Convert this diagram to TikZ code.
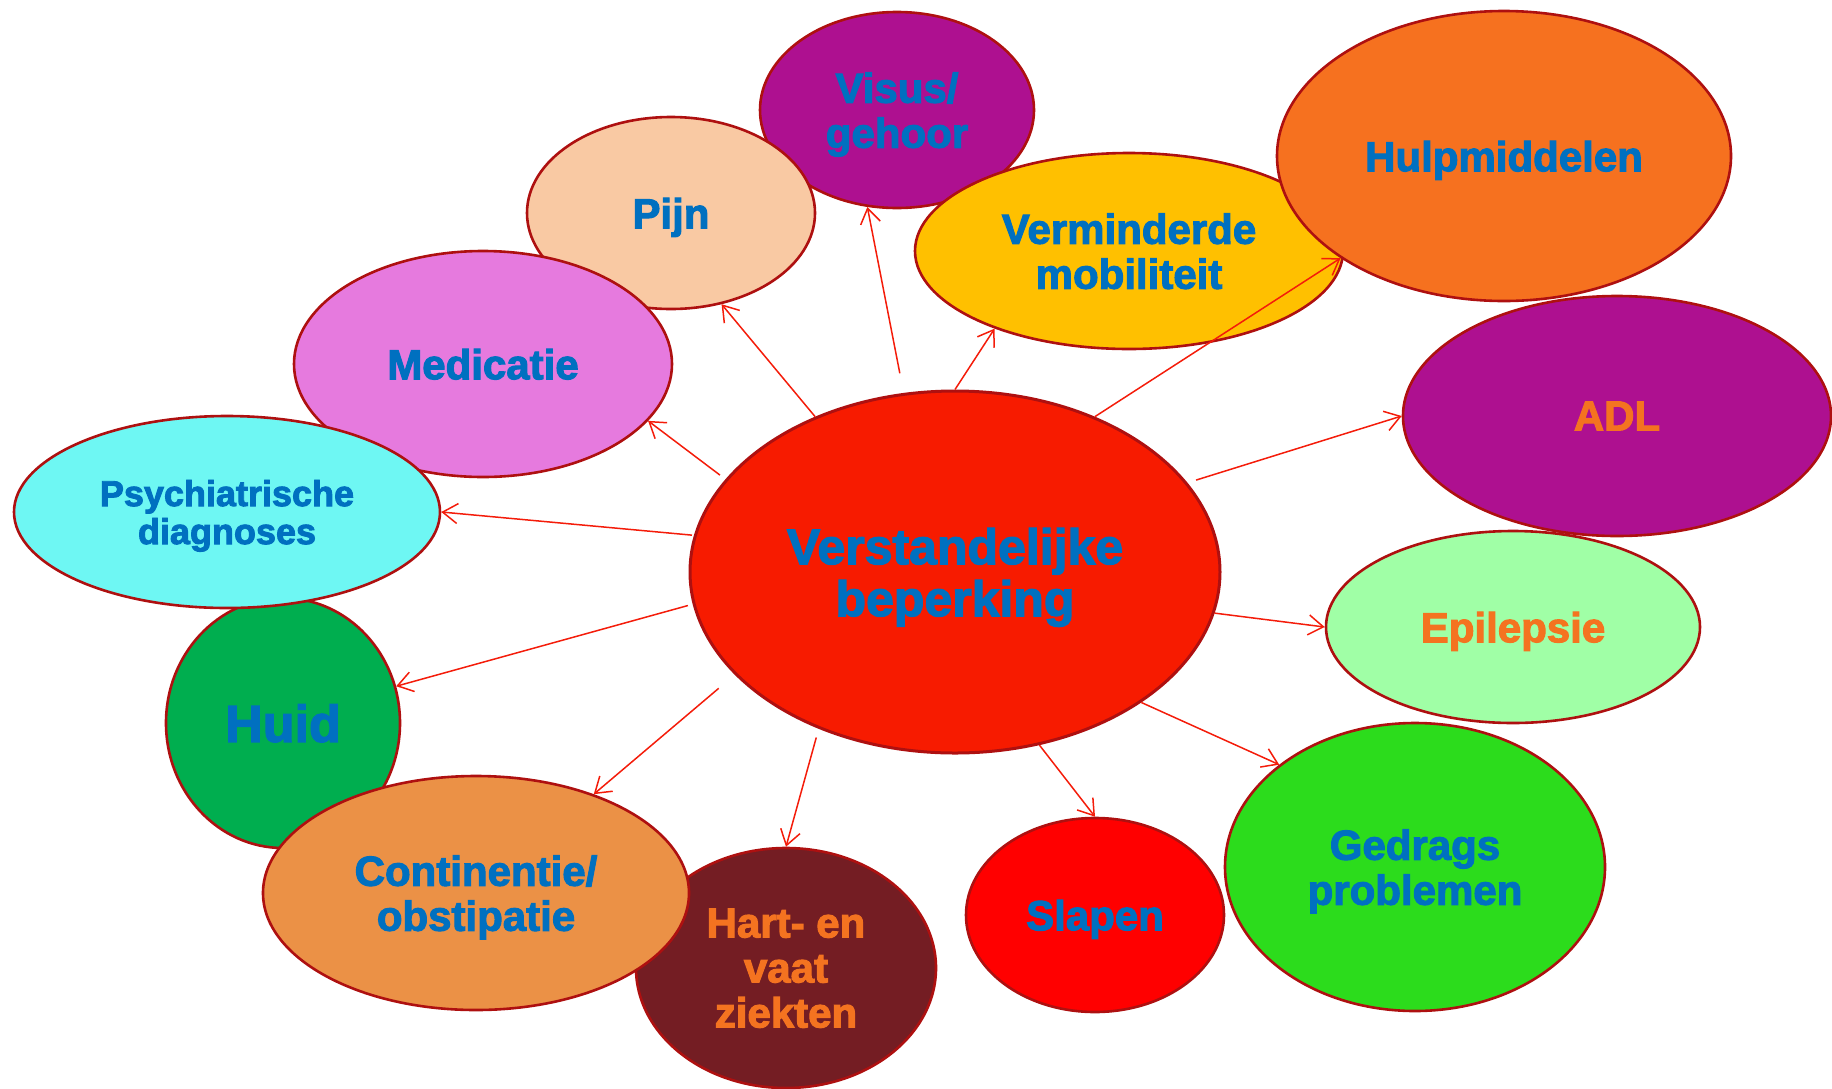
\documentclass[tikz,border=0pt]{standalone}
\usepackage{fontspec}
\setmainfont{Liberation Sans}[BoldFeatures={FakeBold=2.5}]
\usetikzlibrary{shapes.geometric,arrows.meta}
\definecolor{edge}{HTML}{AE1010}
\definecolor{arrowred}{HTML}{F41C0A}
\definecolor{tblue}{HTML}{0070C0}
\definecolor{torange}{HTML}{F47320}
\definecolor{cCenter}{HTML}{F71B00}
\definecolor{cPurple}{HTML}{AE1090}
\definecolor{cPijn}{HTML}{F9C9A3}
\definecolor{cMob}{HTML}{FFC000}
\definecolor{cHulp}{HTML}{F6711F}
\definecolor{cMed}{HTML}{E67ADE}
\definecolor{cPsy}{HTML}{6EF7F3}
\definecolor{cHuid}{HTML}{00AE4F}
\definecolor{cCont}{HTML}{EB9146}
\definecolor{cHart}{HTML}{741D23}
\definecolor{cSlaap}{HTML}{FF0000}
\definecolor{cGedrag}{HTML}{2CDC1C}
\definecolor{cEpi}{HTML}{A0FFA6}
\tikzset{
  bub/.style={ellipse, draw=edge, line width=2.6pt, inner sep=0pt, align=center, text depth=0pt,
    font=\bfseries\fontsize{42}{45}\selectfont, text=tblue},
  conn/.style={draw=arrowred, line width=1.5pt, -{Straight Barb[length=15pt,width=20pt,line width=1.5pt]}}
}
\begin{document}
\begin{tikzpicture}[x=1pt,y=-1pt]
\useasboundingbox (0,0) rectangle (1832,1088);
% back row
\node[bub, fill=cPurple, minimum width=274pt, minimum height=196pt] (visus) at (897,110) {Visus/\\gehoor};
\node[bub, fill=cPijn, minimum width=288pt, minimum height=192pt] (pijn) at (671,213) {Pijn};
\node[bub, fill=cMed, minimum width=378pt, minimum height=226pt] (med) at (483,364) {Medicatie};
\node[bub, fill=cHuid, minimum width=234pt, minimum height=250pt, font=\bfseries\fontsize{52}{56}\selectfont] (huid) at (283,723) {Huid};
\node[bub, fill=cPsy, minimum width=426pt, minimum height=192pt, font=\bfseries\fontsize{36}{38}\selectfont] (psy) at (227,512) {Psychiatrische\\diagnoses};
\node[bub, fill=cHart, minimum width=300pt, minimum height=240pt, text=torange] (hart) at (786,968) {Hart- en\\vaat\\ziekten};
\node[bub, fill=cCont, minimum width=426pt, minimum height=234pt] (cont) at (476,893) {Continentie/\\obstipatie};
\node[bub, fill=cMob, minimum width=428pt, minimum height=196pt] (mob) at (1129,251) {Verminderde\\mobiliteit};
\node[bub, fill=cHulp, minimum width=454pt, minimum height=290pt] (hulp) at (1504,156) {Hulpmiddelen};
\node[bub, fill=cPurple, minimum width=428pt, minimum height=240pt, text=torange] (adl) at (1617,416) {ADL};
\node[bub, fill=cEpi, minimum width=374pt, minimum height=192pt, text=torange] (epi) at (1513,627) {Epilepsie};
\node[bub, fill=cGedrag, minimum width=380pt, minimum height=288pt] (gedrag) at (1415,867) {Gedrags\\problemen};
\node[bub, fill=cSlaap, minimum width=258pt, minimum height=194pt] (slaap) at (1095,915) {Slapen};
\node[bub, fill=cCenter, line width=3pt, minimum width=530pt, minimum height=362pt,
      font=\bfseries\fontsize{50}{52}\selectfont] (c) at (955,572) {Verstandelijke\\beperking};
% connectors
\draw[conn] (c.132) -- (pijn.299);
\draw[conn, shorten <=20pt] (c.106.4) -- (visus.253.7);
\draw[conn] (c.90) -- (mob.210);
\draw[conn] (c.48) -- (hulp.212.8);
\draw[conn, shorten <=7pt] (c.158.3) -- (med.341);
\draw[conn, shorten <=2pt] (c.172.1) -- (psy.0);
\draw[conn, shorten <=9pt] (c.21.1) -- (adl.180);
\draw[conn, shorten <=5pt] (c.187.9) -- (huid.18.3);
\draw[conn] (c.351.7) -- (epi.180);
\draw[conn, shorten <=21pt] (c.205.3) -- (cont.40.1);
\draw[conn, shorten <=9pt] (c.229) -- (hart.90);
\draw[conn] (c.296.6) -- (slaap.90);
\draw[conn] (c.325.4) -- (gedrag.143.4);
\end{tikzpicture}
\end{document}
